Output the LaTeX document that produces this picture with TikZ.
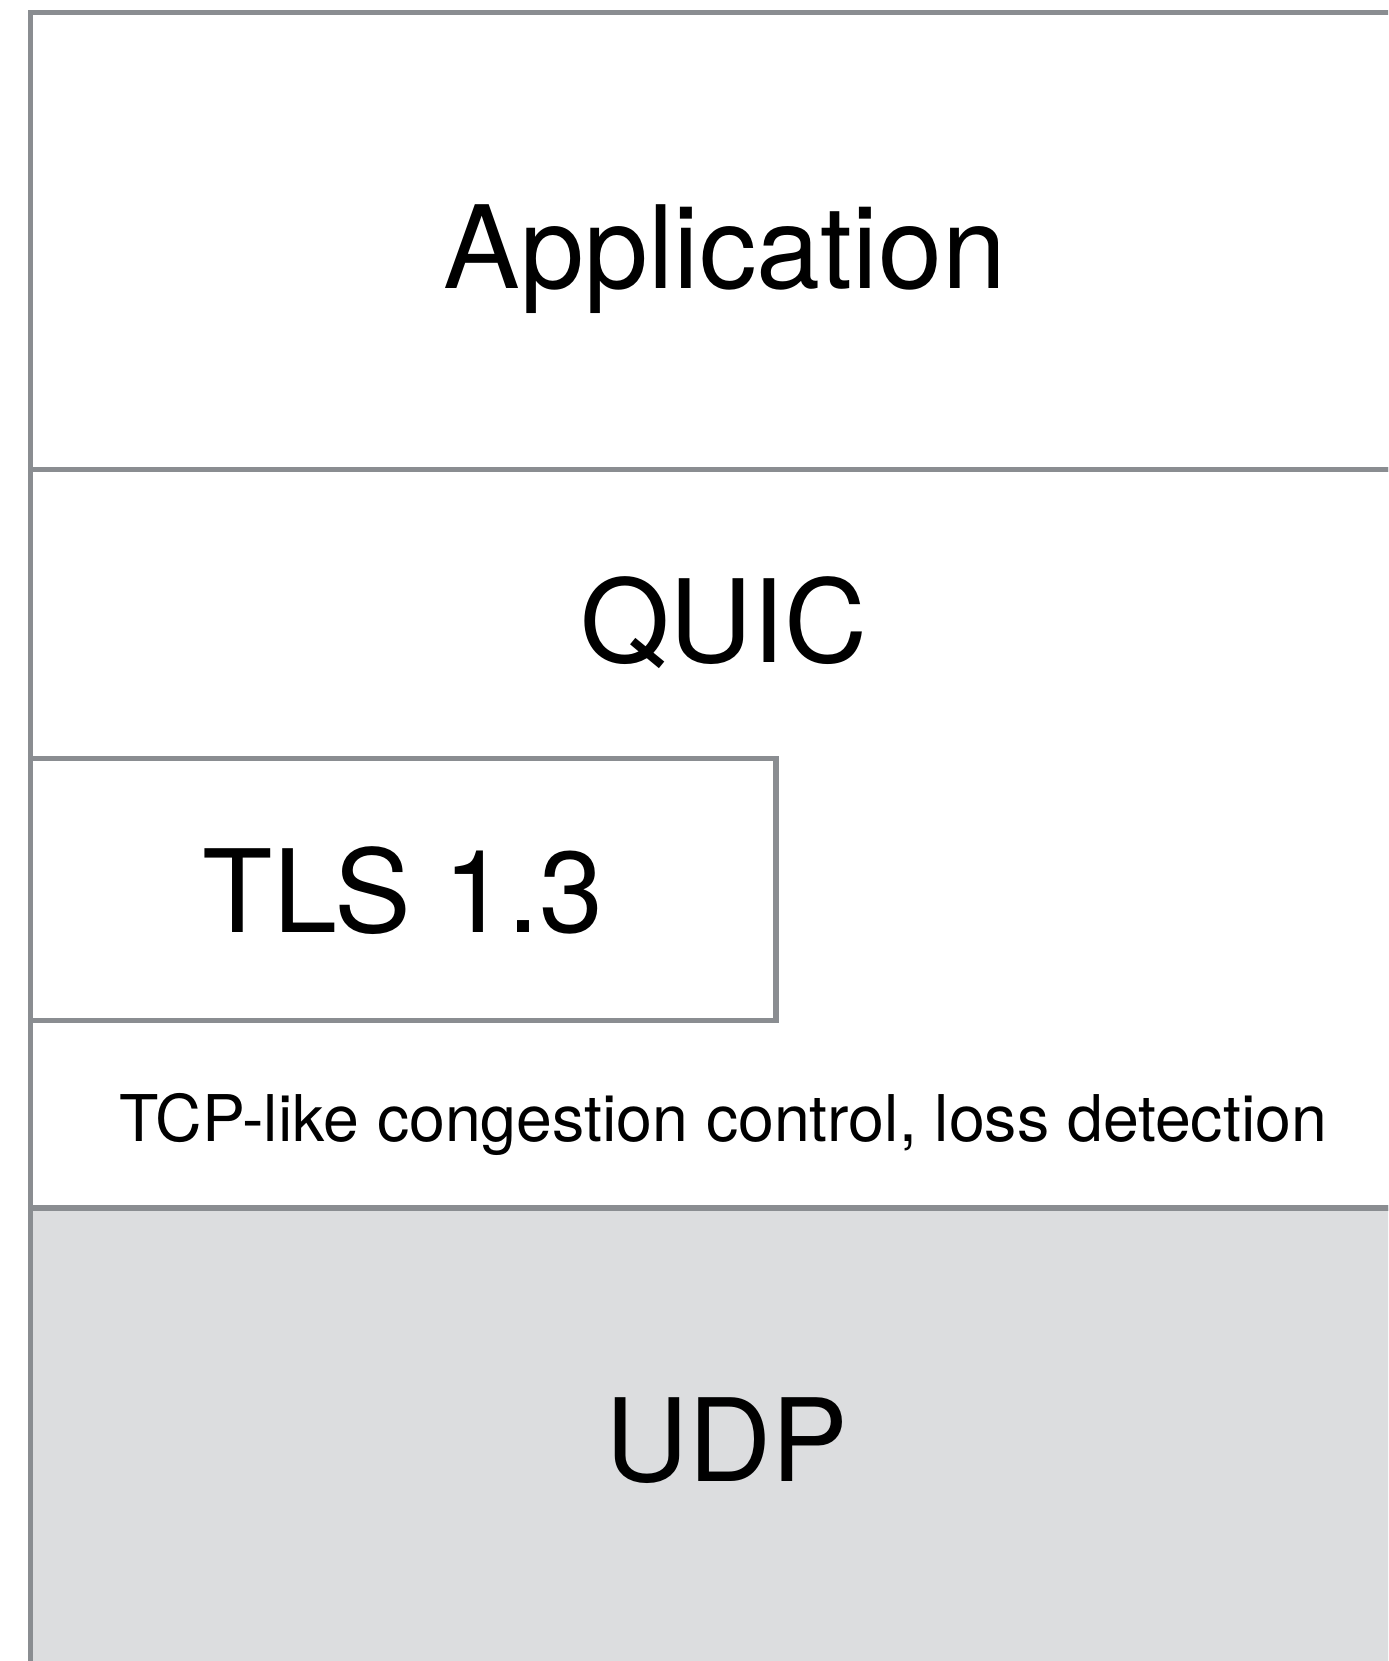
\documentclass[tikz,border=0pt]{standalone}
\usepackage{fontspec}
\setmainfont{TeX Gyre Heros}
\definecolor{edgegray}{HTML}{8A8D91}
\definecolor{udpfill}{HTML}{DCDDDF}
\tikzset{
  layerbox/.style={draw=edgegray, line width=2.8pt},
  bigtext/.style={inner sep=0pt, anchor=base, font=\fontsize{57.5}{68}\selectfont},
  smalltext/.style={inner sep=0pt, anchor=base, font=\fontsize{32.2}{40}\selectfont}
}
\begin{document}
\begin{tikzpicture}[x=0.5pt, y=-0.5pt]
  \useasboundingbox (0,0) rectangle (1388,1661);
  \clip (0,0) rectangle (1388,1661);
  % layers
  \coordinate (appNW) at (30.5,12.5);
  \coordinate (appSE) at (1420,469.5);
  \coordinate (quicSE) at (1420,1208);
  \coordinate (udpSE) at (1420,1720);
  \coordinate (tlsNW) at (30.5,758.5);
  \coordinate (tlsSE) at (776,1020.5);
  \draw[layerbox] (30.5,469.5) rectangle (quicSE);
  \draw[layerbox] (appNW) rectangle (appSE);
  \draw[layerbox, fill=udpfill] (30.5,1208) rectangle (udpSE);
  \draw[layerbox, fill=white] (tlsNW) rectangle (tlsSE);
  % labels
  \node[bigtext] (app) at (725,288) {Application};
  \node[bigtext] (quic) at (724,662) {QUIC};
  \node[bigtext] (tls) at (403,932) {TLS 1.3};
  \node[smalltext] (cc) at (723,1141) {TCP-like congestion control, loss detection};
  \node[bigtext] (udp) at (727,1481) {UDP};
\end{tikzpicture}
\end{document}
